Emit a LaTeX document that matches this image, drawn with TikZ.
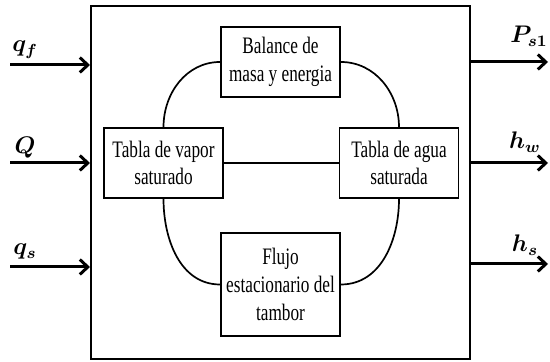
\documentclass[tikz,border=0pt]{standalone}
\usepackage{amsmath}
\usepackage{amssymb}
\usepackage{graphicx}
\usepackage{fontspec}
\setmainfont{Liberation Serif}
\usepackage{tikz}
\usetikzlibrary{arrows.meta}
\newcommand{\nar}[1]{\scalebox{0.73}[1]{#1}}
\tikzstyle{block}=[draw, line width=0.9pt, inner sep=0, minimum width=59.5pt, minimum height=35pt,
                   align=center, font=\fontsize{11.8}{13.8}\selectfont]
\tikzstyle{tallblock}=[block, minimum height=51.5pt]
\tikzstyle{system}=[draw, line width=1pt, inner sep=0, minimum width=189.5pt, minimum height=176.5pt]
\tikzstyle{flow}=[line width=1.5pt, -{Straight Barb[length=4pt,width=7.5pt]}]
\tikzstyle{link}=[line width=0.85pt]
\tikzstyle{signal}=[font=\fontsize{12}{13}\selectfont, inner sep=0]
\begin{document}
\begin{tikzpicture}[x=0.5pt, y=0.5pt]
        \useasboundingbox (0, 0) rectangle (550, 362);
        \node[system]    (S) at (280.5, 179.5) {};
        \node[block]     (B) at (280.5, 300) {\nar{Balance de}\\\nar{masa y energia}};
        \node[block]     (V) at (163.5, 199) {\nar{Tabla de vapor}\\\nar{saturado}};
        \node[block]     (W) at (399, 199) {\nar{Tabla de agua}\\\nar{saturada}};
        \node[tallblock] (F) at (280.5, 77.5) {\nar{Flujo}\\\nar{estacionario del}\\\nar{tambor}};
        \draw[link] (B.west) to[out=180, in=90] (V.north);
        \draw[link] (B.east) to[out=0, in=90] (W.north);
        \draw[link] (V.south) to[out=-90, in=180] (F.west);
        \draw[link] (W.south) to[out=-90, in=0] (F.east);
        \draw[link] (V.east) -- (W.west);
        % inputs
        \coordinate (qf) at (10, 297);
        \coordinate (Qin) at (10, 199);
        \coordinate (qs) at (10, 95);
        \draw[flow] (qf) -- (qf -| S.west);
        \draw[flow] (Qin) -- (Qin -| S.west);
        \draw[flow] (qs) -- (qs -| S.west);
        \node[signal] (qflabel) at (25, 312) {$\boldsymbol{q_f}$};
        \node[signal] (Qlabel) at (25, 214) {$\boldsymbol{Q}$};
        \node[signal] (qslabel) at (25, 110) {$\boldsymbol{q_s}$};
        % outputs
        \coordinate (Ps) at (548, 300);
        \coordinate (hw) at (548, 199);
        \coordinate (hs) at (548, 98);
        \draw[flow] (Ps -| S.east) -- (Ps);
        \draw[flow] (hw -| S.east) -- (hw);
        \draw[flow] (hs -| S.east) -- (hs);
        \node[signal] (Pslabel) at (529, 326) {$\boldsymbol{P_{s1}}$};
        \node[signal] (hwlabel) at (525, 220) {$\boldsymbol{h_w}$};
        \node[signal] (hslabel) at (525, 117) {$\boldsymbol{h_s}$};
    \end{tikzpicture}
\end{document}
